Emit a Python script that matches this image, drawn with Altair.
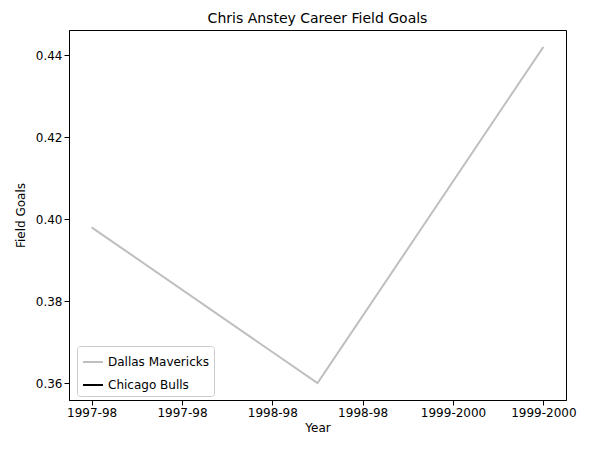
import altair as alt
import pandas as pd

# data
teams = ["Dallas Mavericks", "Dallas Mavericks", "Dallas Mavericks"]
season_idx = [0, 1, 2]
field_goals = [0.398, 0.360, 0.442]
tick_vals = [0, 0.4, 0.8, 1.2, 1.6, 2.0]

df = pd.DataFrame({"team": teams, "x": season_idx, "fg": field_goals})

label_expr = ("datum.value < 0.6 ? '1997-98' : datum.value < 1.4 ? '1998-98' : '1999-2000'")

chart = alt.Chart(df).mark_line(strokeWidth=2).encode(
    x=alt.X("x:Q", title="Year",
            scale=alt.Scale(domain=[-0.1, 2.1], nice=False, zero=False),
            axis=alt.Axis(values=tick_vals, labelExpr=label_expr, grid=False,
                          tickColor="black", domainColor="black", labelColor="black",
                          labelFontSize=12, titleFontSize=12, titleFontWeight="normal",
                          titlePadding=4,
                          labelFont="DejaVu Sans", titleFont="DejaVu Sans")),
    y=alt.Y("fg:Q", title="Field Goals",
            scale=alt.Scale(domain=[0.3559, 0.4461], nice=False, zero=False),
            axis=alt.Axis(values=[0.36, 0.38, 0.40, 0.42, 0.44], format=".2f", grid=False,
                          tickColor="black", domainColor="black", labelColor="black",
                          labelFontSize=12, titleFontSize=12, titleFontWeight="normal",
                          titlePadding=8,
                          labelFont="DejaVu Sans", titleFont="DejaVu Sans")),
    color=alt.Color("team:N",
                    scale=alt.Scale(domain=["Dallas Mavericks", "Chicago Bulls"],
                                    range=["#bfbfbf", "black"]),
                    legend=alt.Legend(title=None, orient="none", legendX=8, legendY=316,
                                      symbolType="stroke", symbolStrokeWidth=2, symbolSize=400,
                                      labelFontSize=12, labelFont="DejaVu Sans",
                                      strokeColor="#cccccc", fillColor="white", padding=5,
                                      cornerRadius=3, rowPadding=6)),
).properties(
    width=497, height=370,
    title=alt.TitleParams("Chris Anstey Career Field Goals", fontSize=14,
                          fontWeight="normal", font="DejaVu Sans"),
    autosize=alt.AutoSizeParams(type="none"),
    padding={"left": 61, "top": 22, "right": 17, "bottom": 45},
).configure_view(stroke="black")

chart.save("out.html", embed_options={"renderer": "svg", "actions": False})
